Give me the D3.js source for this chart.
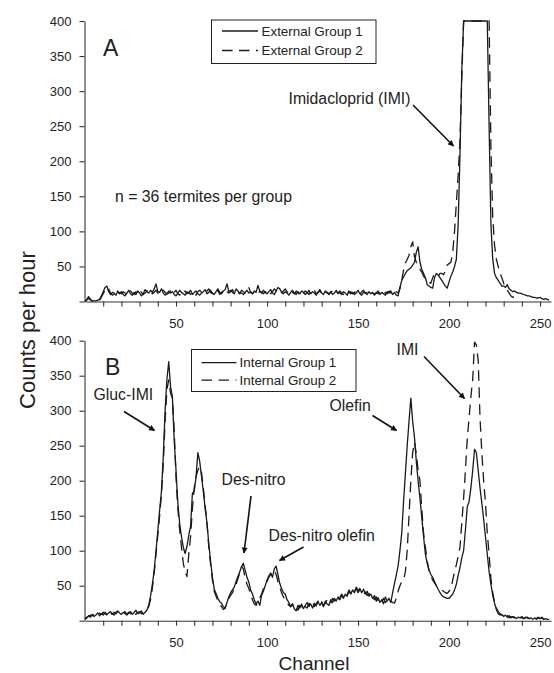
<!DOCTYPE html>
<html>
<head>
<meta charset="utf-8">
<script src="https://cdn.jsdelivr.net/npm/d3@7"></script>
<style>
  html, body { margin: 0; padding: 0; background: #fff; }
  svg { display: block; }
  text { font-family: "Liberation Sans", Arial, Helvetica, sans-serif; fill: #222; }
</style>
</head>
<body>
<svg id="chart" width="554" height="673"></svg>
<script>
// Radioactivity counts per detector channel (one value per channel, starting at channel 0)
const externalGroup1 = [
  0, 3, 7, 3, 1, 1, 1, 2, 3, 8,
  14, 20, 22, 14, 10, 13, 12, 9, 15, 11,
  14, 10, 8, 12, 16, 11, 9, 13, 10, 15,
  12, 8, 11, 17, 14, 12, 16, 13, 18, 25,
  14, 13, 18, 12, 9, 11, 15, 12, 14, 10,
  8, 12, 16, 13, 11, 9, 14, 12, 16, 10,
  13, 15, 11, 9, 12, 14, 17, 11, 13, 16,
  12, 10, 14, 18, 13, 11, 15, 17, 25, 14,
  16, 13, 11, 18, 15, 12, 12, 10, 13, 16,
  12, 14, 11, 15, 13, 23, 15, 12, 16, 13,
  11, 14, 17, 12, 10, 15, 20, 18, 13, 11,
  14, 12, 9, 13, 16, 12, 10, 14, 11, 15,
  13, 10, 12, 16, 11, 14, 12, 9, 13, 17,
  12, 10, 15, 13, 11, 14, 10, 12, 16, 11,
  13, 10, 14, 12, 9, 15, 11, 13, 10, 12,
  16, 11, 9, 13, 12, 10, 14, 11, 13, 9,
  12, 15, 10, 13, 11, 9, 14, 12, 15, 10,
  13, 9, 8, 20, 30, 35, 40, 44, 46, 48,
  52, 56, 70, 78, 56, 46, 40, 34, 24, 22,
  20, 19, 34, 40, 38, 34, 30, 26, 22, 19,
  28, 36, 42, 50, 60, 110, 210, 330, 400, 400,
  400, 400, 400, 400, 400, 400, 400, 400, 400, 400,
  400, 400, 250, 110, 60, 40, 34, 30, 26, 22,
  22, 20, 24, 18, 16, 14, 15, 13, 12, 12,
  11, 10, 9, 8, 8, 7, 6, 6, 5, 5,
  6, 4, 3, 4, 3, 2
];
const externalGroup2 = [
  0, 2, 5, 2, 1, 1, 1, 1, 2, 6,
  11, 16, 20, 18, 12, 9, 11, 14, 10, 13,
  11, 14, 12, 9, 13, 15, 12, 10, 14, 11,
  16, 13, 10, 12, 15, 18, 14, 11, 13, 16,
  12, 10, 14, 16, 13, 11, 12, 15, 10, 13,
  16, 11, 9, 14, 12, 15, 11, 13, 10, 14,
  12, 9, 14, 16, 13, 10, 12, 15, 18, 13,
  11, 14, 12, 16, 10, 13, 15, 11, 14, 12,
  14, 17, 12, 15, 13, 11, 16, 14, 12, 15,
  20, 13, 11, 14, 12, 10, 15, 13, 11, 14,
  13, 16, 11, 14, 18, 15, 13, 10, 12, 15,
  18, 14, 12, 16, 13, 11, 15, 12, 10, 14,
  12, 15, 13, 10, 14, 12, 16, 11, 13, 15,
  12, 9, 14, 12, 10, 13, 15, 11, 14, 12,
  15, 12, 10, 13, 16, 12, 14, 11, 13, 15,
  12, 10, 14, 16, 12, 13, 11, 14, 12, 10,
  13, 11, 14, 12, 10, 13, 11, 15, 12, 13,
  10, 14, 12, 18, 30, 45, 55, 60, 66, 78,
  85, 64, 56, 50, 46, 42, 36, 32, 28, 27,
  26, 34, 40, 38, 36, 40, 40, 38, 44, 52,
  54, 56, 70, 100, 140, 180, 230, 320, 400, 400,
  400, 400, 400, 400, 400, 400, 400, 400, 400, 400,
  400, 400, 400, 220, 120, 80, 60, 50, 40, 34,
  26, 20, 16, 12, 8, 6, 7
];
const internalGroup1 = [
  2, 4, 7, 5, 9, 6, 8, 11, 7, 10,
  8, 12, 9, 11, 13, 10, 8, 12, 14, 11,
  9, 12, 10, 8, 11, 13, 9, 12, 15, 10,
  11, 14, 9, 12, 15, 22, 35, 52, 72, 100,
  128, 158, 185, 235, 300, 345, 370, 334, 320, 258,
  215, 168, 139, 120, 105, 96, 106, 122, 135, 182,
  185, 205, 240, 228, 206, 185, 160, 140, 110, 85,
  62, 45, 39, 32, 27, 25, 20, 18, 26, 34,
  40, 44, 48, 56, 63, 70, 77, 82, 72, 62,
  55, 44, 38, 30, 24, 28, 22, 36, 42, 50,
  58, 64, 68, 62, 74, 78, 66, 53, 46, 40,
  38, 30, 26, 20, 24, 17, 14, 22, 18, 24,
  17, 22, 26, 20, 24, 18, 25, 21, 27, 22,
  26, 20, 28, 24, 22, 30, 26, 32, 28, 34,
  30, 36, 32, 38, 35, 42, 38, 44, 40, 48,
  43, 46, 40, 45, 38, 42, 35, 38, 32, 36,
  28, 33, 26, 30, 24, 34, 28, 32, 26, 40,
  53, 65, 78, 100, 125, 170, 210, 250, 285, 318,
  285, 262, 228, 200, 175, 148, 120, 95, 82, 72,
  66, 62, 56, 50, 45, 40, 36, 34, 33, 32,
  32, 35, 38, 44, 52, 65, 76, 90, 100, 130,
  163, 170, 190, 215, 245, 240, 215, 190, 168, 145,
  120, 95, 70, 52, 36, 25, 16, 10, 8, 9,
  6, 8, 5, 7, 4, 6, 5, 3, 5, 4,
  6, 3, 4, 5, 3, 4, 2, 4, 3, 5,
  3, 4, 2, 3, 2, 2
];
const internalGroup2 = [
  3, 5, 6, 8, 7, 9, 10, 8, 11, 9,
  12, 10, 8, 13, 11, 9, 12, 10, 13, 12,
  10, 11, 13, 9, 12, 10, 14, 11, 9, 12,
  13, 10, 12, 14, 16, 20, 30, 46, 68, 95,
  122, 150, 180, 225, 285, 330, 344, 325, 318, 272,
  205, 160, 130, 105, 82, 70, 63, 95, 120, 160,
  190, 206, 215, 220, 212, 190, 165, 140, 105, 80,
  58, 42, 35, 28, 24, 20, 16, 18, 26, 32,
  36, 40, 46, 52, 60, 68, 77, 74, 60, 52,
  46, 38, 30, 24, 22, 26, 32, 38, 46, 52,
  56, 62, 66, 70, 72, 66, 56, 48, 40, 34,
  30, 26, 22, 20, 24, 17, 20, 15, 22, 19,
  24, 20, 18, 25, 22, 27, 20, 24, 28, 23,
  27, 22, 25, 30, 27, 24, 32, 28, 34, 30,
  33, 38, 34, 40, 37, 44, 39, 45, 42, 46,
  40, 44, 42, 38, 41, 36, 39, 34, 36, 30,
  34, 28, 31, 27, 32, 26, 29, 24, 28, 26,
  25, 32, 42, 50, 56, 58, 70, 100, 150, 200,
  240, 255, 238, 215, 200, 160, 125, 105, 85, 72,
  64, 58, 54, 50, 47, 45, 44, 42, 40, 39,
  42, 46, 58, 70, 80, 92, 105, 140, 175, 215,
  260, 290, 320, 345, 398, 394, 372, 290, 240, 200,
  168, 125, 95, 60, 40, 26, 18, 13, 10, 8,
  7, 5, 8, 4, 6, 5, 4, 6, 3, 5,
  4, 3, 5, 4, 3, 2, 4, 3, 2, 4,
  3, 5, 2, 3, 2, 2
];

const channelTicks = [10, 20, 30, 40, 50, 60, 70, 80, 90, 100, 110, 120, 130, 140, 150,
                      160, 170, 180, 190, 200, 210, 220, 230, 240, 250];
const channelLabels = [50, 100, 150, 200, 250];
const countTicks = [0, 50, 100, 150, 200, 250, 300, 350, 400];

const svg = d3.select("#chart");
const FONT = '"Liberation Sans", Arial, Helvetica, sans-serif';
const DASH = "10.5,6.5";

const x = d3.scaleLinear().domain([0, 256]).range([85, 551]);

const panels = [
  { letter: "A", top: 21, bottom: 301.5,
    series: [
      { name: "External Group 1", values: externalGroup1, dash: null },
      { name: "External Group 2", values: externalGroup2, dash: DASH }
    ],
    legend: { x: 211.5, y: 20, w: 164.5, h: 43.5, line0: 222, line1: 258, text: 261.5, rows: [31, 50.5] },
    letterPos: [103, 55.5]
  },
  { letter: "B", top: 340.7, bottom: 620.7,
    series: [
      { name: "Internal Group 1", values: internalGroup1, dash: null },
      { name: "Internal Group 2", values: internalGroup2, dash: DASH }
    ],
    legend: { x: 191.5, y: 349.5, w: 164.5, h: 42, line0: 201.5, line1: 236.5, text: 239.5, rows: [362.7, 380.2] },
    letterPos: [105, 375]
  }
];

// arrowhead marker for the peak annotations
svg.append("defs").append("marker")
  .attr("id", "arrowhead")
  .attr("viewBox", "0 0 10 10")
  .attr("refX", 9).attr("refY", 5)
  .attr("markerWidth", 7).attr("markerHeight", 6)
  .attr("markerUnits", "userSpaceOnUse")
  .attr("orient", "auto")
  .append("path")
  .attr("d", "M0,0 L10,5 L0,10 Z")
  .attr("fill", "#111");

panels.forEach(p => {
  const y = d3.scaleLinear().domain([0, 400]).range([p.bottom, p.top]);

  // y axis
  const yAxis = svg.append("g")
    .attr("transform", `translate(${x(0) - 0.5},0)`)
    .call(d3.axisLeft(y).tickValues(countTicks).tickSize(5).tickSizeOuter(0).tickPadding(8)
      .tickFormat(d => d === 0 ? "" : d));
  // x axis
  const xAxis = svg.append("g")
    .attr("transform", `translate(0,${p.bottom})`)
    .call(d3.axisBottom(x).tickValues(channelTicks).tickSize(5).tickSizeOuter(0).tickPadding(8)
      .tickFormat(d => channelLabels.includes(d) ? d : ""));

  [yAxis, xAxis].forEach(g => {
    g.select(".domain").attr("stroke", "#333").attr("stroke-width", 1.1);
    g.selectAll(".tick line").attr("stroke", "#333").attr("stroke-width", 1.1);
    g.selectAll(".tick text").attr("font-size", 13).attr("font-family", FONT).attr("fill", "#222");
  });
  xAxis.selectAll(".tick text").attr("dy", "1.05em");

  // data lines
  const line = d3.line()
    .x((d, i) => x(i))
    .y(d => y(d));
  p.series.forEach(s => {
    svg.append("path")
      .datum(s.values)
      .attr("fill", "none")
      .attr("stroke", "#1a1a1a")
      .attr("stroke-width", 1.3)
      .attr("stroke-linejoin", "round")
      .attr("stroke-dasharray", s.dash)
      .attr("d", line);
  });

  // legend
  const L = p.legend;
  const lg = svg.append("g");
  lg.append("rect")
    .attr("x", L.x).attr("y", L.y).attr("width", L.w).attr("height", L.h)
    .attr("fill", "#fff").attr("stroke", "#222").attr("stroke-width", 1);
  p.series.forEach((s, i) => {
    lg.append("line")
      .attr("x1", L.line0).attr("x2", L.line1)
      .attr("y1", L.rows[i]).attr("y2", L.rows[i])
      .attr("stroke", "#1a1a1a").attr("stroke-width", 1.3)
      .attr("stroke-dasharray", s.dash);
    lg.append("text")
      .attr("x", L.text).attr("y", L.rows[i] + 4.6)
      .attr("font-size", 13.4)
      .text(s.name);
  });

  // panel letter
  svg.append("text")
    .attr("x", p.letterPos[0]).attr("y", p.letterPos[1])
    .attr("font-size", 23)
    .text(p.letter);
});

// annotations: [text, text x, baseline y, arrow from, arrow to]
const notes = [
  ["Imidacloprid (IMI)", 288.5, 103.5, [413, 105], [453.5, 146]],
  ["n = 36 termites per group", 115, 202, null, null],
  ["Gluc-IMI", 93.5, 400, [124, 411.5], [154.5, 430.5]],
  ["IMI", 396.5, 354.5, [424, 356.5], [464.5, 398.5]],
  ["Olefin", 329.5, 410.5, [372.5, 415.5], [396.5, 430.5]],
  ["Des-nitro", 221.5, 485, [251, 496], [244, 553]],
  ["Des-nitro olefin", 268.5, 540.5, [303.5, 547], [279.5, 560.5]]
];
notes.forEach(([label, tx, ty, from, to]) => {
  svg.append("text")
    .attr("x", tx).attr("y", ty)
    .attr("font-size", 15.8)
    .text(label);
  if (from) {
    svg.append("line")
      .attr("x1", from[0]).attr("y1", from[1])
      .attr("x2", to[0]).attr("y2", to[1])
      .attr("stroke", "#111").attr("stroke-width", 1.6)
      .attr("marker-end", "url(#arrowhead)");
  }
});

// axis titles
svg.append("text")
  .attr("x", 314).attr("y", 670)
  .attr("text-anchor", "middle")
  .attr("font-size", 19)
  .text("Channel");
svg.append("text")
  .attr("transform", "translate(35,330) rotate(-90)")
  .attr("text-anchor", "middle")
  .attr("font-size", 22)
  .text("Counts per hour");
</script>
</body>
</html>
